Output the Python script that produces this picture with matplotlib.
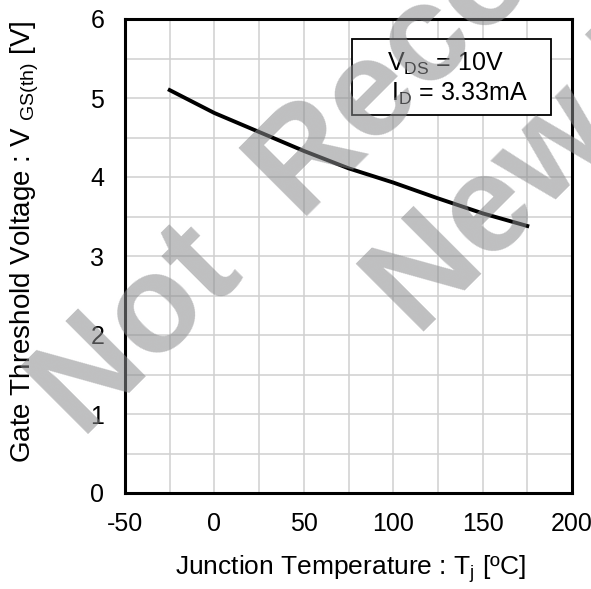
import numpy as np
import matplotlib
matplotlib.use('Agg')
import matplotlib.pyplot as plt
from matplotlib.patches import Rectangle

plt.rcParams['font.family'] = ['Liberation Sans', 'DejaVu Sans']
plt.rcParams['mathtext.fontset'] = 'custom'
plt.rcParams['mathtext.rm'] = 'Liberation Sans'
plt.rcParams['axes.unicode_minus'] = False

#Dados
temp = [-25, 0, 25, 50, 75, 100, 125, 150, 175]
vth = [5.10, 4.81, 4.57, 4.33, 4.11, 3.93, 3.73, 3.54, 3.38]

x_ticks = [-50, 0, 50, 100, 150, 200]
y_ticks = [0, 1, 2, 3, 4, 5, 6]

fig = plt.figure(figsize=(5.91, 5.89), dpi=100)
ax = fig.add_axes([125/591, 1-493/589, 447/591, 474/589])

#Curva suavizada
ax.plot(temp, vth, color='black', lw=2.8, zorder=3)

ax.set_xlim(-50, 200)
ax.set_ylim(0, 6)
ax.set_xticks(x_ticks)
ax.set_yticks(y_ticks)
ax.set_xticks(np.arange(-50, 201, 25), minor=True)
ax.set_yticks(np.arange(0, 6.01, 0.5), minor=True)
ax.grid(which='both', color='#d0d0d0', lw=1.1, zorder=0)
ax.set_axisbelow(True)
ax.tick_params(which='both', length=0, labelsize=18)
ax.tick_params(axis='x', pad=14)
ax.tick_params(axis='y', pad=15)
for s in ax.spines.values():
    s.set_linewidth(2.2)

ax.set_xlabel(r'Junction Temperature : T$_{\mathregular{j}}$ [ºC]', fontsize=19)
ax.set_ylabel(r'Gate Threshold Voltage : V $_{\mathregular{GS(th)}}$ [V]', fontsize=20)
ax.xaxis.set_label_coords(0.503, -0.127)
ax.yaxis.set_label_coords(-0.188, 0.53)

#Caixa com condicoes
ax.add_patch(Rectangle((77, 4.78), 111, 0.97, facecolor='white', edgecolor='black', lw=1.3, zorder=4))
ax.text(96.4, 5.34, r'V$_{\mathregular{DS}}$ = 10V', fontsize=18, va='baseline', ha='left', zorder=5)
ax.text(98.6, 4.97, r'I$_{\mathregular{D}}$ = 3.33mA', fontsize=18, va='baseline', ha='left', zorder=5)

#Marca d'agua
wm = dict(fontsize=100, fontweight='bold', color='#8a8b8d', alpha=0.55, rotation=45,
          rotation_mode='anchor', ha='left', va='baseline', zorder=10)
fig.text(82/591, 1-440/589, 'Not  Recommended', **wm)
fig.text(418/591, 1-338/589, 'New Design', **wm)

plt.savefig('out.png', dpi=100)
plt.close()
